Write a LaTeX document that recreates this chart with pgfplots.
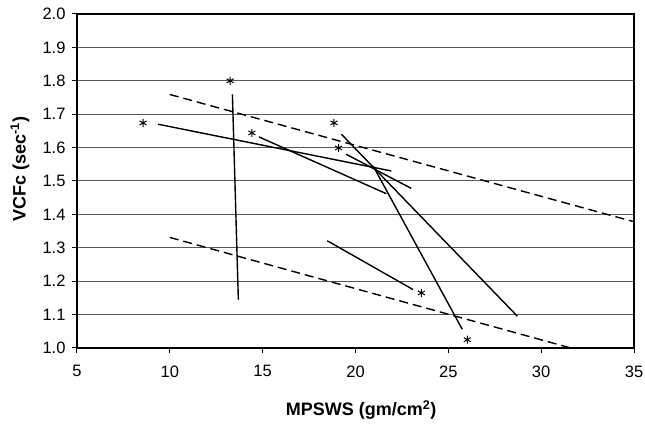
\documentclass[border=0pt]{standalone}
\usepackage{fontspec}
\setmainfont{Liberation Sans}
\usepackage{pgfplots}
\pgfplotsset{compat=1.18}
\begin{document}
\begin{tikzpicture}[x=1pt,y=1pt]
\useasboundingbox (-77,-77) rectangle (568,348);
\begin{axis}[at={(0,0)}, anchor=south west, scale only axis,
  width=557pt, height=334pt,
  xmin=5, xmax=35, ymin=1, ymax=2,
  xtick={5,10,15,20,25,30,35},
  ytick={1.0,1.1,1.2,1.3,1.4,1.5,1.6,1.7,1.8,1.9,2.0},
  yticklabel style={xshift=-3pt, /pgf/number format/fixed, /pgf/number format/fixed zerofill, /pgf/number format/precision=1},
  /pgf/number format/assume math mode=true,
  tick label style={font=\fontsize{16.5}{18}\selectfont},
  xticklabel style={yshift=-9pt},
  ymajorgrids, grid style={black!65, line width=1pt},
  axis line style={line width=1.4pt},
  tick align=outside, tick pos=left, major tick length=5pt,
  tick style={black, line width=1pt},
  xlabel={\textbf{MPSWS (gm/cm\textsuperscript{2})}},
  ylabel={\textbf{VCFc (sec\textsuperscript{-1})}},
  label style={font=\fontsize{18}{20}\selectfont},
  xlabel style={at={(axis description cs:0.51,0)}, anchor=center, yshift=-62pt},
  ylabel style={at={(axis description cs:-0.1025,0.536)}, anchor=center},
  every axis plot/.append style={black, line width=1.4pt},
]
% dashed lines
\addplot[dashed, dash pattern=on 9pt off 5pt, mark=none] coordinates {(10,1.759) (35,1.378)};
\addplot[dashed, dash pattern=on 9pt off 5pt, mark=none] coordinates {(10,1.331) (31.6,1.0)};
% solid lines
\addplot[mark=none] coordinates {(13.37,1.759) (13.69,1.145)};
\addplot[mark=none] coordinates {(9.36,1.670) (21.93,1.530)};
\addplot[mark=none] coordinates {(14.8,1.632) (21.66,1.462)};
\addplot[mark=none] coordinates {(19.5,1.58) (23.0,1.478)};
\addplot[mark=none] coordinates {(19.24,1.640) (28.72,1.095)};
\addplot[mark=none] coordinates {(20.95,1.545) (25.75,1.056)};
\addplot[mark=none] coordinates {(18.48,1.321) (23.1,1.175)};
% asterisks
\addplot[only marks, mark=asterisk, mark size=4pt, line width=1pt] coordinates {
  (13.25,1.80) (8.56,1.674) (14.42,1.644) (19.09,1.599) (18.84,1.674) (26.02,1.025) (23.55,1.165)
};
\end{axis}
\end{tikzpicture}
\end{document}
